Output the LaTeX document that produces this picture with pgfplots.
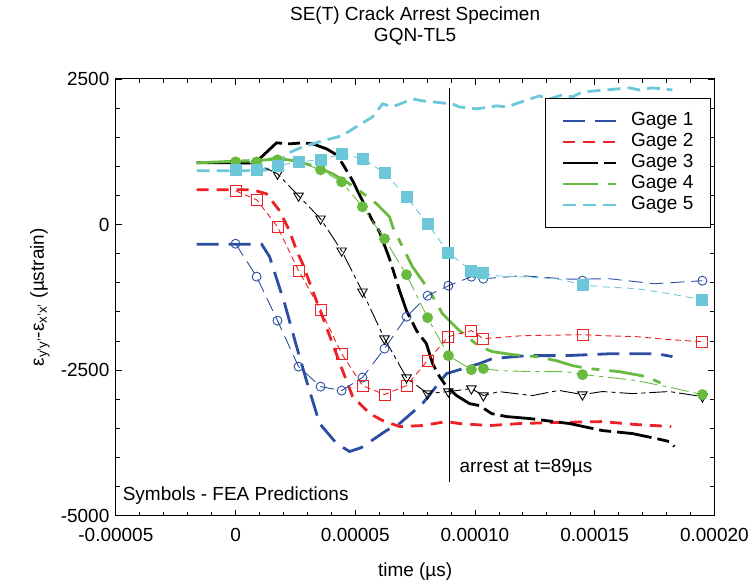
\documentclass[border=0pt]{standalone}
\usepackage{fontspec}
\setmainfont{Liberation Sans}
\usepackage{pgfplots}
\usepackage{pgfplotstable}
\pgfplotsset{compat=1.18}
\definecolor{gA}{RGB}{44,78,162}
\definecolor{gB}{RGB}{237,32,36}
\definecolor{gC}{RGB}{0,0,0}
\definecolor{gD}{RGB}{105,187,64}
\definecolor{gE}{RGB}{108,200,216}

% experimental gages (time in microseconds, strain)
\pgfplotstableread{
x y
-16.3 -340
10.9 -340
14.2 -554
20.5 -1361
25.5 -2098
29.6 -2682
35.1 -3420
42.2 -3763
47.6 -3900
52.6 -3832
63.0 -3540
68.5 -3420
78.1 -3077
88.1 -2562
101.9 -2390
107.3 -2304
121.5 -2253
138.2 -2253
157.4 -2219
175.8 -2219
182.5 -2270
}\expA
\pgfplotstableread{
x y
-16.3 595
7.1 595
12.9 527
18.4 235
22.5 -108
25.5 -451
28.0 -674
32.2 -1138
36.3 -1584
40.5 -2047
44.7 -2510
48.9 -2957
56.0 -3248
61.4 -3368
68.5 -3471
78.1 -3454
88.1 -3386
93.5 -3420
106.1 -3454
118.6 -3420
132.4 -3403
153.2 -3386
167.4 -3437
182.0 -3471
}\expB
\pgfplotstableread{
x y
-16.3 1059
8.8 1059
10.0 1128
17.1 1402
22.5 1385
28.0 1402
32.2 1385
38.0 1299
42.2 1196
44.7 1042
48.9 750
53.0 407
57.2 63
60.1 -125
64.3 -589
68.5 -1138
71.4 -1481
75.6 -1824
79.7 -2047
82.3 -2390
85.2 -2613
88.1 -2785
92.3 -2939
97.7 -3077
101.9 -3111
106.9 -3248
113.2 -3300
122.8 -3334
139.5 -3420
153.2 -3540
165.8 -3592
175.8 -3678
181.2 -3729
183.3 -3815
}\expC
\pgfplotstableread{
x y
-16.3 1059
12.9 1110
17.1 1145
26.7 1076
33.8 990
40.5 870
46.3 733
51.8 578
58.9 355
64.3 132
65.6 -39
68.5 -280
73.9 -726
81.0 -1138
86.4 -1532
93.5 -1824
101.9 -2098
107.3 -2184
115.7 -2236
125.7 -2270
134.0 -2339
140.7 -2425
147.8 -2476
160.3 -2528
171.6 -2613
180.0 -2768
}\expD
\pgfplotstableread{
x y
-16.3 922
8.8 922
12.9 939
17.1 1007
21.3 1213
28.0 1333
36.3 1436
44.3 1522
57.2 1848
61.4 2071
65.6 2020
73.9 2157
78.1 2123
90.6 2071
93.5 2020
100.6 1985
109.0 2037
113.2 2020
126.9 2209
131.1 2157
136.5 2226
140.7 2191
144.9 2277
149.9 2294
164.5 2346
168.7 2311
174.1 2346
182.5 2311
}\expE

% FEA predictions
\pgfplotstableread{
x y
0 -331
8.8 -897
17.5 -1652
26.3 -2442
35.5 -2785
44.3 -2853
53.0 -2630
62.2 -2133
71.4 -1584
80.2 -1223
88.9 -1052
98.5 -897
103.5 -932
144.9 -966
195.0 -966
}\feaA
\pgfplotstableread{
x y
0 -331
8.8 -897
17.5 -1652
26.3 -2442
35.5 -2785
44.3 -2853
53.0 -2630
62.2 -2133
71.4 -1584
80.2 -1223
88.9 -1052
98.5 -897
103.5 -932
120.0 -880
139.5 -940
156.2 -932
174.9 -1018
195.0 -966
}\feaAline
\pgfplotstableread{
x y
0 578
8.8 424
17.5 -39
26.3 -794
35.5 -1464
44.3 -2219
53.0 -2768
62.2 -2922
71.4 -2768
80.2 -2339
88.9 -1927
98.5 -1824
103.5 -1961
120.0 -1910
144.9 -1893
153.2 -1910
167.4 -1927
181.2 -1978
195.0 -2013
}\feaB
\pgfplotstableread{
x y
0 1042
8.8 1042
17.5 870
26.3 492
35.5 98
44.3 -451
53.0 -1155
62.2 -1961
71.4 -2630
80.2 -2905
88.9 -2871
98.5 -2819
103.5 -2939
110.0 -2871
124.0 -2939
135.0 -2850
144.9 -2922
153.2 -2870
165.8 -2905
181.2 -2870
195.0 -2957
}\feaC
\pgfplotstableread{
x y
0 1076
8.8 1076
17.5 1110
26.3 1076
35.5 939
44.3 733
53.0 304
62.2 -245
71.4 -863
80.2 -1601
88.9 -2253
98.5 -2493
103.5 -2476
110.0 -2510
124.0 -2528
138.2 -2528
144.9 -2579
153.2 -2613
167.4 -2682
180.0 -2785
195.0 -2922
}\feaD
\pgfplotstableread{
x y
0 939
8.8 939
17.5 1007
26.3 1076
35.5 1110
44.3 1213
53.0 1128
62.2 887
71.4 475
80.2 12
88.9 -486
98.5 -794
103.5 -829
107.3 -880
118.6 -897
134.0 -932
144.9 -1035
153.2 -1070
167.4 -1103
181.2 -1189
195.0 -1292
}\feaE

\begin{document}
\fontsize{19}{21}\selectfont
\begin{tikzpicture}
\begin{axis}[
  scale only axis,
  width=599pt, height=437pt,
  xmin=-50, xmax=200, ymin=-5000, ymax=2500,
  xtick={-50,0,50,100,150,200},
  xticklabels={-0.00005,0,0.00005,0.00010,0.00015,0.00020},
  ytick={-5000,-2500,0,2500},
  yticklabels={-5000,-2500,0,2500},
  minor x tick num=4, minor y tick num=4,
  tick align=inside,
  major tick length=6pt, minor tick length=4pt,
  tick style={black, line width=0.8pt},
  axis line style={line width=1.1pt},
  xticklabel style={yshift=-6pt},
  xlabel={time (µs)},
  xlabel style={at={(axis description cs:0.5,-0.128)}, anchor=center},
  ylabel={ε\textsubscript{y'y'}-ε\textsubscript{x'x'} (µstrain)},
  ylabel style={at={(axis description cs:-0.127,0.5)}, anchor=center, rotate=0},
  title={SE(T) Crack Arrest Specimen\\GQN-TL5},
  title style={at={(axis description cs:0.5,1.1087)}, anchor=center, align=center},
  legend style={at={(rel axis cs:0.995,0.957)}, anchor=north east,
    draw=black, line width=1pt, inner xsep=16pt, inner ysep=12pt,
    nodes={inner sep=1.5pt, text height=14pt, text depth=4pt},
    /tikz/every odd column/.append style={column sep=13pt}},
  legend cell align=left,
  legend image code/.code={\draw[#1, line width=2.2pt] (0pt,0pt) -- (53pt,0pt);},
]
% experimental
\addplot[gA, line width=2.8pt, dash pattern=on 22pt off 10pt] table {\expA};
\addlegendentry{Gage 1}
\addplot[gB, line width=2.8pt, dash pattern=on 12pt off 8pt] table {\expB};
\addlegendentry{Gage 2}
\addplot[gC, line width=2.8pt, dash pattern=on 35pt off 6pt on 12pt off 6pt] table {\expC};
\addlegendentry{Gage 3}
\addplot[gD, line width=2.8pt, dash pattern=on 35pt off 10pt on 8pt off 10pt] table {\expD};
\addlegendentry{Gage 4}
\addplot[gE, line width=2.8pt, dash pattern=on 13pt off 7pt] table {\expE};
\addlegendentry{Gage 5}

% FEA lines
\addplot[gA, line width=0.9pt, dash pattern=on 14pt off 7pt, forget plot] table {\feaAline};
\addplot[gA, only marks, mark=o, mark size=4.5pt, mark options={solid, line width=0.9pt}, forget plot] table {\feaA};
\addplot[gB, line width=0.9pt, dash pattern=on 6pt off 4pt, mark=square, mark size=5.5pt, mark options={solid, line width=0.9pt}, forget plot, mark indices={1,...,13,15,19}] table {\feaB};
\addplot[gC, line width=0.9pt, dash pattern=on 18pt off 4pt on 4pt off 4pt, mark=triangle, mark size=5.5pt, mark options={solid, rotate=180, line width=0.9pt}, forget plot, mark indices={1,...,13,17,21}] table {\feaC};
\addplot[gD, line width=0.9pt, dash pattern=on 18pt off 5pt on 4pt off 5pt, mark=*, mark size=5pt, mark options={solid, fill=gD, draw=gD}, forget plot, mark indices={1,...,13,17,21}] table {\feaD};
\addplot[gE, line width=0.9pt, dash pattern=on 7pt off 5pt, mark=square*, mark size=5.5pt, mark options={solid, fill=gE, draw=gE}, forget plot, mark indices={1,...,13,17,21}] table {\feaE};

% arrest line
\addplot[black, line width=0.9pt, forget plot] coordinates {(89.5,2346) (89.5,-4431)};
\node[anchor=west, inner sep=0pt] at (axis cs:93.5,-4172) {arrest at t=89µs};
\node[anchor=west, inner sep=0pt] at (axis cs:-47.2,-4655) {Symbols - FEA Predictions};
\end{axis}
\path (current axis.south west) ++(-116pt,-72pt) rectangle ++(755pt,584pt);
\end{tikzpicture}
\end{document}
